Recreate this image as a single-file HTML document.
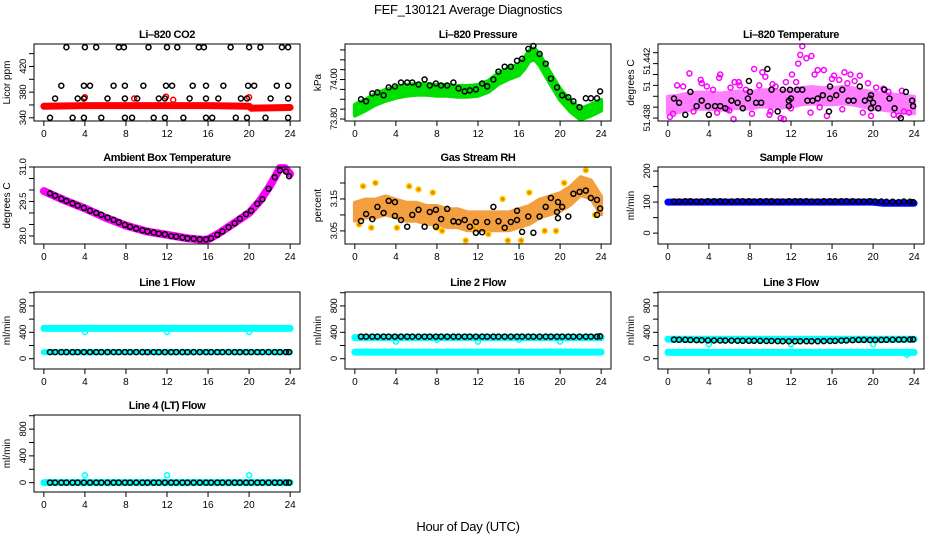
<!DOCTYPE html>
<html><head><meta charset="utf-8">
<style>
html,body{margin:0;padding:0;background:#fff;}
svg{display:block;font-family:"Liberation Sans",sans-serif;}
</style></head>
<body>
<svg id="chart" width="936" height="540" viewBox="0 0 936 540" xmlns="http://www.w3.org/2000/svg">
<text x="468" y="14" text-anchor="middle" font-size="13" letter-spacing="-0.3">FEF_130121  Average Diagnostics</text>
<text x="468" y="531" text-anchor="middle" font-size="13" letter-spacing="-0.3">Hour of Day (UTC)</text>
</svg>
<script>
// ---------- shared ----------
const xTicks = [0,4,8,12,16,20,24];
const blackHours = [0.6,1.1,1.7,2.2,2.8,3.3,3.9,4.5,5.1,5.6,6.2,6.8,7.3,7.9,8.4,9.0,9.6,10.1,10.7,11.2,11.8,12.4,12.9,13.5,14.0,14.6,15.2,15.8,16.3,16.9,17.4,18.0,18.6,19.1,19.7,20.2,20.8,21.3,21.9,22.5,23.0,23.6,23.9];

// ---------- CO2 ----------
const co2Hours = [0.6,1.1,1.7,2.2,2.8,3.3,3.9,3.9,3.9,4.0,4.5,5.1,5.6,6.2,6.8,7.3,7.8,7.9,7.9,7.9,8.6,9.1,9.7,10.2,10.7,11.2,11.8,11.8,11.9,12.0,12.5,13.0,13.6,14.2,14.5,15.1,15.6,15.8,15.8,15.8,16.4,17.0,17.5,18.2,18.7,19.2,19.8,19.8,19.9,20.0,20.5,21.1,21.6,22.1,22.7,23.2,23.8,23.8,23.8,23.8];
const co2Vals = [340,370,390,450,340,370,340,370,390,450,390,450,340,370,390,450,450,340,370,390,340,370,390,450,340,370,340,370,390,450,390,450,340,370,390,450,450,340,370,390,340,370,390,450,340,370,340,370,390,450,390,450,340,370,390,450,340,370,390,450];
const co2BandHours = [0,4,8,12,16,20,20.2,24];
const co2BandVals = [358,359,359,359,359,358,355,356];
const co2RedHours = [4.0,8.8,11.9,12.6,20.0];
const co2RedVals = [372,370,373,368,372];

// ---------- Pressure (tick steps; 0 = 73.80) ----------
const presBandHours = [0,1,2,3,4,5,6,7,8,9,10,11,12,13,14,15,16,16.5,17,17.5,18,19,20,21,22,23,24];
const presBandVals = [0.9,1.4,2.0,2.4,2.7,2.9,3.0,3.0,2.9,2.9,2.8,2.8,2.9,3.3,4.1,4.6,5.0,5.6,6.4,6.6,6.0,4.2,2.5,1.3,0.5,0.9,1.4];
const presBlack = [2.0,1.8,2.6,2.7,2.4,3.2,3.3,3.7,3.7,3.7,3.5,4.0,3.4,3.6,3.4,3.4,3.7,3.1,2.8,2.9,3.0,3.6,3.3,4.0,4.8,5.3,5.3,5.9,6.1,7.1,7.4,6.6,5.6,4.1,3.2,2.4,2.2,1.8,1.2,2.1,2.1,2.1,2.8];
const presTickVals = [0,1,2,3,4,5,6,7];
const presTickLabels = ["73.80","","","","74.00","","",""];

// ---------- Li-820 Temperature (tick steps; 0 = 51.438) ----------
const tempHours = [0.6,1.1,1.7,2.2,2.8,3.3,3.9,4.0,4.6,5.1,5.6,6.2,6.8,7.3,7.8,7.9,8.0,8.6,9.1,9.7,10.1,10.7,11.2,11.8,11.8,11.9,12.0,12.6,13.1,13.6,14.1,14.6,15.1,15.7,15.8,15.8,16.4,17.0,17.6,18.1,18.7,19.2,19.7,19.8,19.8,20.0,20.5,21.1,21.6,22.1,22.7,23.2,23.8,23.9];
const tempVals = [1.8,1.4,0.3,2.4,1.1,1.6,1.1,0.3,1.1,1.1,0.9,1.6,1.4,0.9,1.8,3.4,2.4,1.4,1.4,4.5,2.6,0.6,2.6,1.6,1.1,2.6,1.8,2.6,2.6,1.6,1.6,1.8,2.1,0.6,1.8,2.9,2.1,2.6,1.6,1.6,2.9,1.6,1.8,2.1,0.9,1.4,0.9,2.6,1.8,0.9,0.0,2.4,1.6,1.1];
const tempBandHours = [0,1,2,3,4,5,6,7,8,9,10,11,12,13,14,15,16,17,18,19,20,21,22,23,24];
const tempBandVals = [1.2,1.3,1.5,1.6,1.6,1.5,1.6,1.7,1.6,1.8,1.8,1.7,1.8,2.0,2.1,2.0,2.0,2.1,2.0,1.8,1.6,1.5,1.4,1.3,1.2];
const tempPinkHours = [0.9,2.1,3.2,3.3,4.4,5.0,5.1,6.1,6.5,6.9,7.6,8.4,8.9,9.2,9.5,10.5,11.5,12.1,12.7,12.9,13.1,13.5,14.0,14.3,14.6,15.2,16.2,16.7,17.2,17.5,17.8,18.7,19.5,20.3,21.5,22.8,0.2,5.8,6.4,9.9,11.0,11.3,13.9,15.5,19.8,22.5,23.5,1.5,3.8,7.0,10.2,12.5,16.0,18.2,21.0,0.5,2.5,4.8,6.0,8.2,10.0,12.0,14.8,17.0,19.0,22.0,23.0];
const tempPinkVals = [3.0,4.1,3.5,3.2,2.6,3.7,4.0,2.8,3.3,3.3,2.6,4.5,3.0,4.2,3.8,2.9,3.3,4.0,5.0,5.8,6.6,5.5,5.7,4.0,4.4,4.4,3.9,3.5,4.2,3.2,4.0,3.9,3.2,2.8,2.4,2.5,0.1,0.8,-0.1,0.3,0.0,-0.1,0.5,0.2,0.2,0.2,0.5,2.9,2.9,3.0,3.1,3.3,3.6,3.4,2.7,0.4,0.6,0.5,0.7,0.4,0.6,0.9,1.0,0.8,0.5,0.3,0.6];
const tempTickVals = [0,1,2,3,4,5,6];
const tempTickLabels = ["51.438","","","","","",""];

// ---------- Ambient box temperature ----------
const ambBandHours = [0,2,4,6,8,10,12,14,15.5,16,17,18,19,20,21,22,22.5,23,23.5,24];
const ambBandVals = [29.95,29.55,29.2,28.8,28.45,28.2,28.05,27.9,27.83,27.85,28.1,28.4,28.7,29.0,29.5,30.15,30.55,30.95,30.95,30.7];
const ambBlack = [29.85,29.75,29.62,29.52,29.42,29.32,29.22,29.1,29.0,28.92,28.8,28.7,28.6,28.48,28.4,28.32,28.25,28.2,28.15,28.1,28.07,28.0,27.97,27.93,27.9,27.88,27.85,27.85,27.9,28.05,28.2,28.38,28.55,28.75,28.95,29.1,29.4,29.6,30.05,30.55,30.85,30.8,30.6];

// ---------- Gas stream RH ----------
const rhBandHours = [0,1,2,3,4,5,6,7,8,9,10,11,12,13,14,15,16,17,18,19,20,21,22,23,24];
const rhBandVals = [3.11,3.12,3.12,3.13,3.12,3.11,3.11,3.10,3.10,3.09,3.09,3.08,3.08,3.08,3.08,3.08,3.09,3.10,3.12,3.13,3.14,3.16,3.19,3.18,3.13];
const rhOutHours = [0.4,0.8,1.6,2.0,4.1,5.3,6.2,7.6,8.0,8.5,10.8,11.6,13.0,14.4,14.9,16.2,17.0,18.5,19.6,20.4,22.5,23.4];
const rhOutVals = [3.07,3.19,3.06,3.20,3.06,3.19,3.18,3.17,3.06,3.05,3.02,3.06,3.04,3.15,3.02,3.02,3.17,3.05,3.05,3.20,3.24,3.10];
const rhHours = [0.6,1.1,1.7,2.2,2.8,3.3,3.9,3.9,4.5,5.1,5.6,6.2,6.8,7.3,7.9,7.9,8.4,9.0,9.6,10.1,10.7,11.2,11.8,11.8,12.4,12.9,13.5,14.0,14.6,15.2,15.8,15.8,16.3,16.9,17.4,18.0,18.6,19.1,19.7,19.8,19.8,20.2,20.8,21.3,21.9,22.5,23.0,23.6,23.6,23.9];
const rhVals = [3.081,3.103,3.087,3.125,3.106,3.144,3.097,3.14,3.084,3.063,3.1,3.116,3.063,3.109,3.116,3.063,3.087,3.119,3.08,3.078,3.084,3.063,3.078,3.044,3.046,3.078,3.125,3.08,3.06,3.078,3.084,3.113,3.047,3.095,3.044,3.095,3.125,3.153,3.109,3.14,3.09,3.125,3.095,3.166,3.172,3.176,3.153,3.147,3.1,3.12];

// ---------- Sample flow ----------
const sfBandHours = [0,4,8,12,16,20,21,24];
const sfBandVals = [100,100,100,100,100,100,96,96];
const sfBlack = [102,102,103,103,102,102,103,103,103,102,102,103,103,103,102,103,103,103,102,102,103,103,103,103,102,102,103,103,103,103,103,103,102,102,103,102,102,101,101,100,102,101,100];

// ---------- Line flows ----------
const flowHours = [0,24];
const l1High = [460,460];
const l1Low = [100,100];
const l1DipHours = [4,12,20];
const l1DipVals = [405,405,405];
const l1Black = [100,100,100,100,100,100,100,100,100,100,100,100,100,100,100,100,100,100,100,100,100,100,100,100,100,100,100,100,100,100,100,100,100,100,100,100,100,100,100,100,100,100,100];
const l2High = [320,320];
const l2Low = [100,100];
const l2DipHours = [4,8,12,16,20];
const l2DipVals = [260,290,260,290,260];
const l2Black = [335,335,335,335,335,335,335,335,335,335,335,335,335,335,335,335,335,335,335,335,335,335,335,335,335,335,335,335,335,335,335,335,335,335,335,335,335,335,335,335,335,335,340];
const l3High = [295,295];
const l3Low = [95,95];
const l3DipHours = [4,12,20,23.3];
const l3DipVals = [220,220,220,60];
const l3Black = [290,288,286,284,282,280,278,276,276,275,274,273,272,272,271,270,269,268,267,266,266,266,265,265,265,266,267,268,270,274,278,282,285,285,284,284,285,286,288,289,290,291,292];
const l4Band = [0,0];
const l4DipHours = [4,12,20];
const l4DipVals = [110,110,110];
const l4Black = [0,0,0,0,0,0,0,0,0,0,0,0,0,0,0,0,0,0,0,0,0,0,0,0,0,0,0,0,0,0,0,0,0,0,0,0,0,0,0,0,0,0,0];

// ---------- drawing ----------
const svg = document.getElementById('chart');
const NS = 'http://www.w3.org/2000/svg';
function mk(tag, attrs, parent) {
  const e = document.createElementNS(NS, tag);
  for (const k in attrs) e.setAttribute(k, attrs[k]);
  (parent || svg).appendChild(e);
  return e;
}
const colX = [34, 345, 658];
const rowY = [44, 167, 292, 415];
const BW = 266, BH = 77;

function yLabel(p, pos, txt) {
  const tl = mk('text', {x: 0, y: 0, 'text-anchor': 'middle', 'font-size': 9.5, 'letter-spacing': '-0.4', transform: 'translate(' + (p.bx - 8) + ',' + p.y(pos) + ') rotate(-90)'}, p.g);
  
  
  tl.textContent = txt;
}
function panel(name, col, row, title, ylab, yDomain, yTickVals, yTickLabels) {
  const g = mk('g', {});
  
  
  const bx = colX[col], by = rowY[row];
  const p = {g: g, bx: bx, by: by,
    x: h => bx + (h + 0.96) * BW / 25.92,
    y: v => by + BH - (v - yDomain[0]) / (yDomain[1] - yDomain[0]) * BH};
  const t = mk('text', {x: bx + BW / 2, y: by - 6, 'text-anchor': 'middle', 'font-size': 11, 'font-weight': 'bold', 'letter-spacing': '-0.4'}, g);
  
  
  t.textContent = title;
  const yl = mk('text', {x: 0, y: 0, 'text-anchor': 'middle', 'font-size': 10, transform: 'translate(' + (bx - 24) + ',' + (by + BH / 2) + ') rotate(-90)'}, g);
  
  
  yl.textContent = ylab;
  const ax = mk('g', {stroke: '#000', 'stroke-width': 1}, g);
  
  
  xTicks.forEach(h => {
    mk('line', {x1: p.x(h), x2: p.x(h), y1: by + BH, y2: by + BH + 5}, ax);
    const tl = mk('text', {x: p.x(h), y: by + BH + 16, 'text-anchor': 'middle', 'font-size': 10, stroke: 'none'}, g);
    
    
    tl.textContent = h;
  });
  yTickVals.forEach((v, i) => {
    mk('line', {x1: bx - 5, x2: bx, y1: p.y(v), y2: p.y(v)}, ax);
    if (yTickLabels[i] !== '') yLabel(p, v, yTickLabels[i]);
  });
  p.plot = mk('g', {}, g);
  
  
  p.finish = () => {
    const r = mk('rect', {x: bx, y: by, width: BW, height: BH, fill: 'none', stroke: '#000', 'stroke-width': 1}, g);
    
    
  };
  return p;
}
function band(p, name, hours, vals, color, widthPx, opacity) {
  const pts = hours.map((h, i) => p.x(h).toFixed(1) + ',' + p.y(vals[i]).toFixed(1)).join(' ');
  const l = mk('polyline', {points: pts, fill: 'none', stroke: color, 'stroke-width': widthPx, 'stroke-linecap': 'round', 'stroke-linejoin': 'round', opacity: opacity || 1}, p.plot);
  
  
}
function rangeBand(p, name, hours, vals, half, color, opacity) {
  const up = hours.map((h, i) => p.x(h).toFixed(1) + ',' + p.y(vals[i] + half).toFixed(1));
  const dn = hours.map((h, i) => p.x(h).toFixed(1) + ',' + p.y(vals[i] - half).toFixed(1)).reverse();
  const pg = mk('polygon', {points: up.concat(dn).join(' '), fill: color, stroke: color, 'stroke-width': 4, 'stroke-linejoin': 'round', opacity: opacity || 1}, p.plot);
  
  
}
function pts(p, name, hours, vals, color, fill) {
  const g = mk('g', {}, p.plot);
  
  
  hours.forEach((h, i) => {
    const c = mk('circle', {cx: p.x(h).toFixed(1), cy: p.y(vals[i]).toFixed(1), r: 2.5, fill: fill || 'none', stroke: color, 'stroke-width': 1.5}, g);
    
    
  });
}

// CO2
let p = panel('co2-panel', 0, 0, 'Li\u2013820 CO2', 'Licor ppm', [335, 455], [340,360,380,400,420,440], ['340','','380','','420','']);
band(p, 'co2-band', co2BandHours, co2BandVals, '#ff0000', 7);
pts(p, 'co2-red-points', co2RedHours, co2RedVals, '#ff0000');
pts(p, 'co2-black-points', co2Hours, co2Vals, '#000');
p.finish();

// Pressure
p = panel('pressure-panel', 1, 0, 'Li\u2013820 Pressure', 'kPa', [-0.2, 7.6], presTickVals, presTickLabels);
rangeBand(p, 'pressure-band', presBandHours, presBandVals, 0.55, '#00e000');
pts(p, 'pressure-black-points', blackHours, presBlack, '#000');
p.finish();

// Temperature
p = panel('temperature-panel', 2, 0, 'Li\u2013820 Temperature', 'degrees C', [-0.27, 6.8], tempTickVals, tempTickLabels);
rangeBand(p, 'temperature-band', tempBandHours, tempBandVals, 0.75, '#ff00ff', 0.5);
pts(p, 'temperature-pink-points', tempPinkHours, tempPinkVals, '#ff00ff');
pts(p, 'temperature-black-points', tempHours, tempVals, '#000');
yLabel(p, 2.9, '51');
yLabel(p, 5.2, '51.442');
p.finish();

// Ambient
p = panel('ambient-temp-panel', 0, 1, 'Ambient Box Temperature', 'degrees C', [27.65, 31.0], [28.0,28.5,29.0,29.5,30.0,30.5,31.0], ['28.0','','','29.5','','','31.0']);
band(p, 'ambient-band', ambBandHours, ambBandVals, '#ff00ff', 8);
pts(p, 'ambient-black-points', blackHours, ambBlack, '#000');
p.finish();

// RH
p = panel('rh-panel', 1, 1, 'Gas Stream RH', 'percent', [3.009, 3.25], [3.05,3.10,3.15,3.20], ['3.05','','3.15','']);
rangeBand(p, 'rh-band', rhBandHours, rhBandVals, 0.028, '#f08000', 0.75);
pts(p, 'rh-outlier-points', rhOutHours, rhOutVals, '#ffd000', '#f08000');
pts(p, 'rh-black-points', rhHours, rhVals, '#000');
p.finish();

// Sample flow
p = panel('sample-flow-panel', 2, 1, 'Sample Flow', 'ml/min', [-35, 213], [0,50,100,150,200], ['0','','100','','200']);
band(p, 'sample-flow-band', sfBandHours, sfBandVals, '#0000ff', 7);
pts(p, 'sample-flow-black-points', blackHours, sfBlack, '#000');
p.finish();

const flowTicks = [0,200,400,600,800,1000];
const flowLabels = ['0','','400','','800',''];
// Line 1
p = panel('line1-flow-panel', 0, 2, 'Line 1 Flow', 'ml/min', [-156, 1011], flowTicks, flowLabels);
band(p, 'line1-high-band', flowHours, l1High, '#00ffff', 7);
band(p, 'line1-low-band', flowHours, l1Low, '#00ffff', 6);
pts(p, 'line1-dip-points', l1DipHours, l1DipVals, '#00ffff');
pts(p, 'line1-black-points', blackHours, l1Black, '#000');
p.finish();
// Line 2
p = panel('line2-flow-panel', 1, 2, 'Line 2 Flow', 'ml/min', [-156, 1011], flowTicks, flowLabels);
band(p, 'line2-high-band', flowHours, l2High, '#00ffff', 7);
band(p, 'line2-low-band', flowHours, l2Low, '#00ffff', 7);
pts(p, 'line2-dip-points', l2DipHours, l2DipVals, '#00ffff');
pts(p, 'line2-black-points', blackHours, l2Black, '#000');
p.finish();
// Line 3
p = panel('line3-flow-panel', 2, 2, 'Line 3 Flow', 'ml/min', [-156, 1011], flowTicks, flowLabels);
band(p, 'line3-high-band', flowHours, l3High, '#00ffff', 7);
band(p, 'line3-low-band', flowHours, l3Low, '#00ffff', 7);
pts(p, 'line3-dip-points', l3DipHours, l3DipVals, '#00ffff');
pts(p, 'line3-black-points', blackHours, l3Black, '#000');
p.finish();
// Line 4
p = panel('line4-flow-panel', 0, 3, 'Line 4 (LT) Flow', 'ml/min', [-140, 1011], flowTicks, flowLabels);
band(p, 'line4-band', flowHours, l4Band, '#00ffff', 7);
pts(p, 'line4-dip-points', l4DipHours, l4DipVals, '#00ffff');
pts(p, 'line4-black-points', blackHours, l4Black, '#000');
p.finish();
</script>
</body></html>
